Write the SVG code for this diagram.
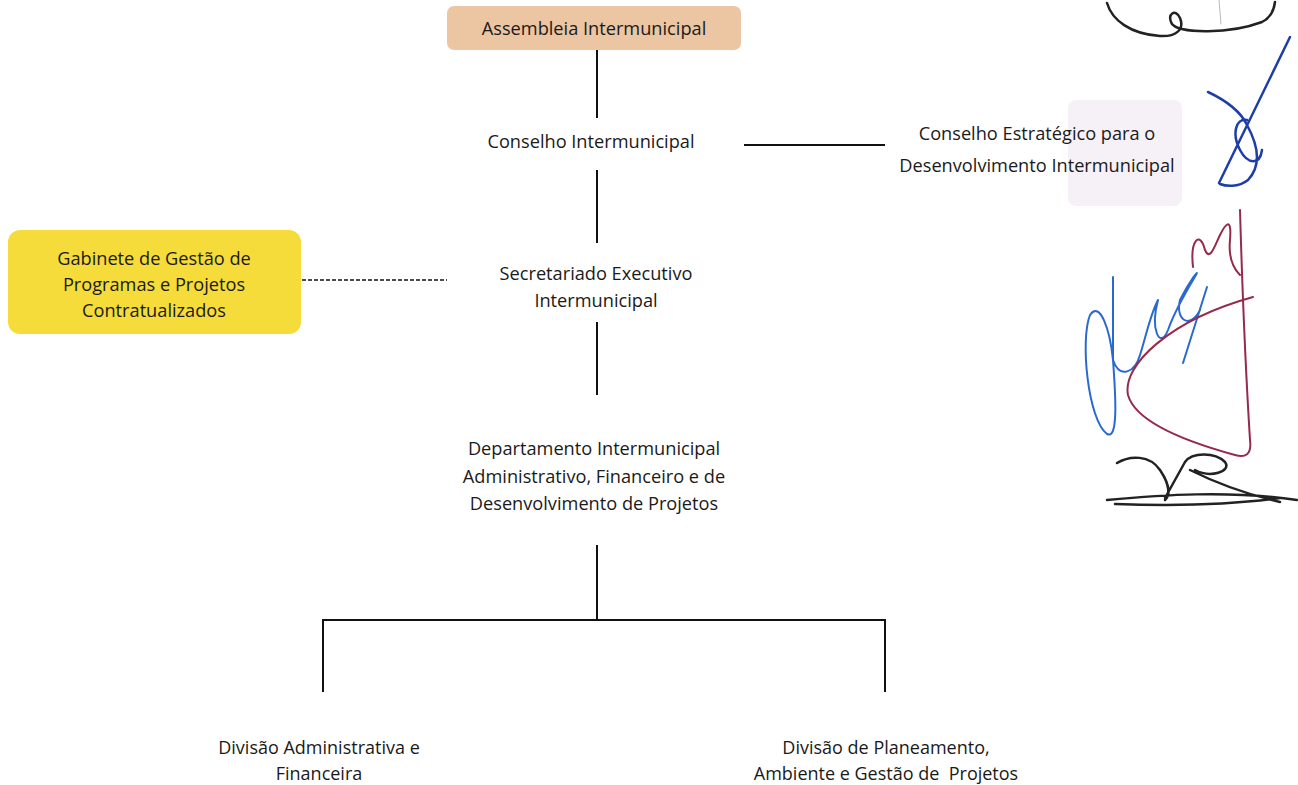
<svg xmlns="http://www.w3.org/2000/svg" width="1298" height="785" viewBox="0 0 1298 785">
<style>
text{font-family:"Open Sans","Liberation Sans",sans-serif;font-size:18.2px;fill:#1a1a1a;text-anchor:middle}
.ln{stroke:#111;stroke-width:2;fill:none}
.dash{stroke:#111;stroke-width:1.5;stroke-dasharray:4 2;fill:none}
.sig{fill:none;stroke-linecap:round;stroke-linejoin:round}
.small{font-size:18px}
</style>
<rect width="1298" height="785" fill="#ffffff"/>
<g id="connectors">
<line class="ln" x1="597" y1="50" x2="597" y2="118"/>
<line class="ln" x1="744" y1="145" x2="885" y2="145"/>
<line class="ln" x1="597" y1="170" x2="597" y2="243"/>
<line class="dash" x1="302" y1="280" x2="447" y2="280"/>
<line class="ln" x1="597" y1="322" x2="597" y2="395"/>
<line class="ln" x1="597" y1="545" x2="597" y2="620"/>
<line class="ln" x1="322" y1="620" x2="886" y2="620"/>
<line class="ln" x1="323" y1="620" x2="323" y2="692"/>
<line class="ln" x1="885" y1="620" x2="885" y2="692"/>
</g>
<g id="assembleia">
<rect x="447" y="6" width="294" height="44" rx="7" fill="#ecc5a2"/>
<text x="594" y="35">Assembleia Intermunicipal</text>
</g>
<g id="conselho">
<text x="591" y="148">Conselho Intermunicipal</text>
</g>
<g id="conselho-estrategico">
<rect x="1068" y="100" width="114" height="106" rx="8" fill="#f6f1f6"/>
<text x="1037" y="140">Conselho Estratégico para o</text>
<text x="1037" y="172">Desenvolvimento Intermunicipal</text>
</g>
<g id="gabinete">
<rect x="8" y="230" width="293" height="104" rx="12" fill="#f5dc3a"/>
<text x="154" y="265">Gabinete de Gestão de</text>
<text x="154" y="291">Programas e Projetos</text>
<text x="154" y="317">Contratualizados</text>
</g>
<g id="secretariado">
<text x="596" y="280">Secretariado Executivo</text>
<text x="596" y="307">Intermunicipal</text>
</g>
<g id="departamento">
<text x="594" y="455">Departamento Intermunicipal</text>
<text x="594" y="483">Administrativo, Financeiro e de</text>
<text x="594" y="510">Desenvolvimento de Projetos</text>
</g>
<g id="divisao-af">
<text class="small" x="319" y="754">Divisão Administrativa e</text>
<text class="small" x="319" y="780">Financeira</text>
</g>
<g id="divisao-pagp">
<text class="small" x="886" y="754">Divisão de Planeamento,</text>
<text class="small" x="886" y="780" xml:space="preserve">Ambiente e Gestão de  Projetos</text>
</g>
<g id="signatures">
<path class="sig" stroke="#222" stroke-width="2.5" d="M1107,3 C1112,20 1130,34 1160,36 C1175,37 1185,30 1180,18 C1176,8 1166,14 1172,24 C1180,34 1230,34 1262,22 C1270,18 1274,10 1275,2"/>
<path class="sig" stroke="#bbb" stroke-width="1" d="M1219,0 L1221,24"/>
<path class="sig" stroke="#1d3ea8" stroke-width="2.5" d="M1290,37 L1219,183 M1208,92 C1225,100 1240,110 1247,125 C1258,145 1262,165 1248,180 C1238,188 1225,186 1220,184 M1247,120 C1235,118 1232,135 1240,150 C1248,165 1260,165 1262,150"/>
<path class="sig" stroke="#2a6ad0" stroke-width="2" d="M1113,277 L1113,360 C1110,330 1100,300 1090,315 C1080,340 1088,420 1107,434 C1118,440 1116,400 1113,360 C1120,380 1135,372 1140,355 C1145,340 1150,315 1158,300 C1150,330 1160,350 1168,330 C1175,310 1190,285 1196,275 C1200,268 1190,280 1180,300 C1175,320 1190,330 1200,310 M1183,363 L1207,287"/>
<path class="sig" stroke="#962a4a" stroke-width="2" d="M1193,267 C1190,240 1200,230 1205,250 C1210,262 1215,245 1220,235 C1225,225 1232,215 1230,240 C1228,260 1235,270 1240,275 M1240,210 C1242,280 1245,360 1250,440 C1252,455 1245,458 1235,455 C1180,440 1135,420 1128,395 C1122,365 1170,320 1253,297"/>
<path class="sig" stroke="#222" stroke-width="2.5" d="M1117,463 C1130,455 1150,455 1160,470 C1170,485 1170,495 1165,500 M1165,498 L1185,462 C1192,452 1215,452 1225,462 C1232,472 1210,478 1195,470 M1190,470 C1220,485 1250,495 1280,502 M1107,500 C1160,495 1230,490 1297,500 M1115,504 C1170,506 1230,505 1280,498"/>
</g>
</svg>
